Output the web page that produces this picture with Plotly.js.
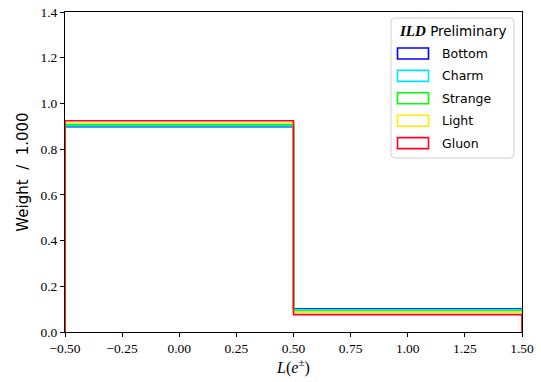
<!DOCTYPE html>
<html><head><meta charset="utf-8">
<script src="https://cdn.plot.ly/plotly-3.0.1.min.js"></script>
<style>body{margin:0;background:#fff}#c{width:541px;height:382px}</style>
</head><body><div id="c"></div>
<script>
const binEdges = [-0.5, 0.5, 1.5];
const names = ["Bottom", "Charm", "Strange", "Light", "Gluon"];
const colors = ["#0000ff", "#00e5ff", "#00ff00", "#ffea00", "#ff0022"];
const bin1 = [0.898, 0.902, 0.908, 0.913, 0.924];
const bin2 = [0.102, 0.098, 0.092, 0.087, 0.076];
const legendTitle = '<span style="font-family:Liberation Serif;font-size:15px"><b><i>ILD</i></b></span> Preliminary';

const W = 541, H = 382, ML = 65, MR = 19, MT = 12, MB = 50;
const PW = W - ML - MR, PH = H - MT - MB;
const px = v => (v - ML) / PW;          // pixel -> paper x
const py = v => (H - MB - v) / PH;      // pixel -> paper y

const traces = [];
names.forEach((n, i) => {
  const xs = [binEdges[0], binEdges[0], binEdges[1], binEdges[1], binEdges[2], binEdges[2]];
  const ys = [0, bin1[i], bin1[i], bin2[i], bin2[i], 0];
  traces.push({type: "scatter", mode: "lines", x: xs, y: ys, name: n,
    line: {color: colors[i], width: 1.6}, showlegend: false, hoverinfo: "skip", cliponaxis: true});
});

// legend drawn manually (matplotlib-style rectangle handles)
const shapes = [];
const annotations = [];
const bx0 = 391, bx1 = 514, by0 = 18, by1 = 158, r = 4;
const rx = r / PW, ry = r / PH;
const X0 = px(bx0), X1 = px(bx1), Y0 = py(by0), Y1 = py(by1);
shapes.push({type: "path", xref: "paper", yref: "paper",
  path: `M${X0 + rx},${Y0} L${X1 - rx},${Y0} Q${X1},${Y0} ${X1},${Y0 - ry} L${X1},${Y1 + ry} Q${X1},${Y1} ${X1 - rx},${Y1} L${X0 + rx},${Y1} Q${X0},${Y1} ${X0},${Y1 + ry} L${X0},${Y0 - ry} Q${X0},${Y0} ${X0 + rx},${Y0} Z`,
  line: {color: "#d0d0d0", width: 1}, fillcolor: "rgba(255,255,255,0.8)", layer: "above"});
annotations.push({xref: "paper", yref: "paper", x: px(452.5), y: py(31), xanchor: "center", yanchor: "middle",
  text: legendTitle, showarrow: false, font: {family: "DejaVu Sans, sans-serif", size: 13.5, color: "#000"}});
names.forEach((n, i) => {
  const cy = 53.5 + i * 22.4;
  shapes.push({type: "rect", xref: "paper", yref: "paper", x0: px(397.5), x1: px(428.5), y0: py(cy - 5.5), y1: py(cy + 5.5),
    line: {color: colors[i], width: 1.6}, fillcolor: "rgba(0,0,0,0)", layer: "above"});
  annotations.push({xref: "paper", yref: "paper", x: px(440), y: py(cy), xanchor: "left", yanchor: "middle",
    text: n, showarrow: false, font: {family: "DejaVu Sans, sans-serif", size: 12.5, color: "#000"}});
});

const serif = "Liberation Serif, DejaVu Serif, serif";
const layout = {
  width: W, height: H,
  margin: {l: ML, r: MR, t: MT, b: MB},
  paper_bgcolor: "#fff", plot_bgcolor: "#fff",
  showlegend: false,
  shapes: shapes, annotations: annotations,
  xaxis: {
    range: [-0.5, 1.5], tickvals: [-0.5, -0.25, 0, 0.25, 0.5, 0.75, 1.0, 1.25, 1.5], tickformat: ".2f",
    ticks: "outside", ticklen: 4, tickcolor: "#000", showgrid: false, zeroline: false,
    showline: true, linecolor: "#000", linewidth: 1, mirror: true,
    tickfont: {family: serif, size: 13.5, color: "#000"},
    title: {text: "<i>L</i>(<i>e</i><sup>±</sup>)", font: {family: serif, size: 16, color: "#000"}, standoff: 4}
  },
  yaxis: {
    range: [0, 1.4], tickvals: [0, 0.2, 0.4, 0.6, 0.8, 1.0, 1.2, 1.4], tickformat: ".1f",
    ticks: "outside", ticklen: 4, tickcolor: "#000", showgrid: false, zeroline: false,
    showline: true, linecolor: "#000", linewidth: 1, mirror: true,
    tickfont: {family: serif, size: 13.5, color: "#000"},
    title: {text: "Weight  /  1.000", font: {family: "DejaVu Sans, sans-serif", size: 15, color: "#000"}, standoff: 8}
  }
};
Plotly.newPlot("c", traces, layout, {displayModeBar: false, staticPlot: true});
</script></body></html>
